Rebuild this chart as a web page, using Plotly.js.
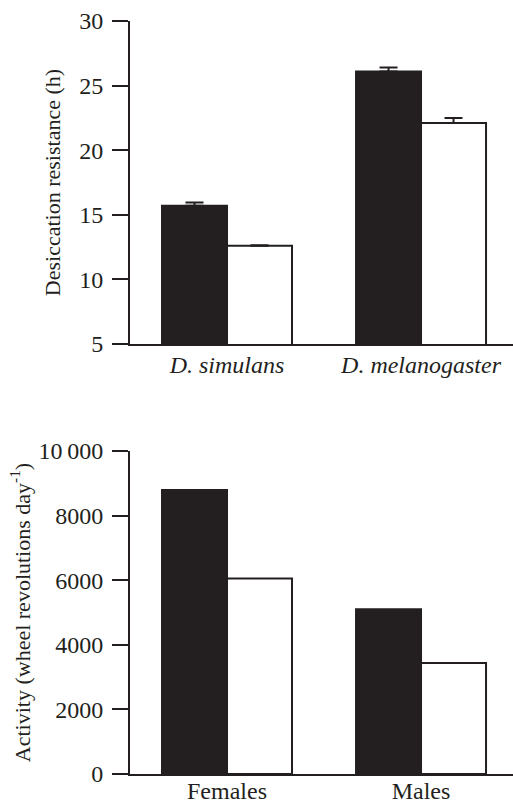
<!DOCTYPE html>
<html><head><meta charset="utf-8">
<script src="https://cdn.plot.ly/plotly-3.0.1.min.js"></script>
<style>html,body{margin:0;padding:0;background:#fff}#c{width:513px;height:803px}</style>
</head><body><div id="c"></div>
<script>
// Top panel: desiccation resistance (h)
const speciesLabels = ["<i>D. simulans</i>", "<i>D. melanogaster</i>"];
const desicBlack = [15.7, 26.1];
const desicBlackErr = [0.25, 0.3];
const desicWhite = [12.6, 22.1];
const desicWhiteErr = [0.05, 0.4];
// Bottom panel: activity (wheel revolutions per day)
const sexLabels = ["Females", "Males"];
const activityBlack = [8790, 5100];
const activityWhite = [6050, 3440];
const desicTicks = [5, 10, 15, 20, 25, 30];
const actTicks = [0, 2000, 4000, 6000, 8000, 10000];
const actTickText = ["0", "2000", "4000", "6000", "8000", "10\u2009000"];

const dark = "#231f20";
const family = "Liberation Serif, Times New Roman, serif";
const tickFont = {family: family, size: 24, color: dark};
const titleFont = {family: family, size: 22, color: dark};
const zeros = [0, 0];

const traces = [
  {type: "bar", x: speciesLabels, y: desicBlack, xaxis: "x", yaxis: "y",
   marker: {color: dark, line: {color: dark, width: 2}},
   error_y: {type: "data", array: desicBlackErr, arrayminus: zeros, symmetric: false, color: dark, thickness: 2, width: 9}},
  {type: "bar", x: speciesLabels, y: desicWhite, xaxis: "x", yaxis: "y",
   marker: {color: "#ffffff", line: {color: dark, width: 2}},
   error_y: {type: "data", array: desicWhiteErr, arrayminus: zeros, symmetric: false, color: dark, thickness: 2, width: 9}},
  {type: "bar", x: sexLabels, y: activityBlack, xaxis: "x2", yaxis: "y2",
   marker: {color: dark, line: {color: dark, width: 2}}},
  {type: "bar", x: sexLabels, y: activityWhite, xaxis: "x2", yaxis: "y2",
   marker: {color: "#ffffff", line: {color: dark, width: 2}}}
];

const yCommon = {showgrid: false, zeroline: false, showline: true, linecolor: dark, linewidth: 2,
  ticks: "outside", ticklen: 16, tickwidth: 2, tickcolor: dark, tickfont: tickFont,
  ticklabelstandoff: 4, automargin: false};
const xCommon = {showgrid: false, zeroline: false, showline: true, linecolor: dark, linewidth: 2,
  ticks: "", tickfont: tickFont, automargin: false, range: [-0.5, 1.474], fixedrange: true};

const layout = {
  width: 513, height: 803,
  margin: {l: 130, r: 0, t: 0, b: 0},
  paper_bgcolor: "#fff", plot_bgcolor: "#fff",
  showlegend: false, font: tickFont,
  barmode: "group", bargap: 0.33, bargroupgap: 0,
  xaxis: Object.assign({}, xCommon, {anchor: "y", domain: [0, 1], ticklabelstandoff: -2}),
  yaxis: Object.assign({}, yCommon, {anchor: "x", domain: [0.5716, 0.9738], range: [5, 30],
    tickvals: desicTicks, title: {text: "Desiccation resistance (h)", font: titleFont, standoff: 12}}),
  xaxis2: Object.assign({}, xCommon, {anchor: "y2", domain: [0, 1], ticklabelstandoff: -6}),
  yaxis2: Object.assign({}, yCommon, {anchor: "x2", domain: [0.0361, 0.4384], range: [0, 10000],
    tickvals: actTicks, ticktext: actTickText,
    title: {text: "Activity (wheel revolutions day<sup>-1</sup>)", font: titleFont, standoff: 2}})
};

Plotly.newPlot("c", traces, layout, {displayModeBar: false, staticPlot: true});
</script></body></html>
